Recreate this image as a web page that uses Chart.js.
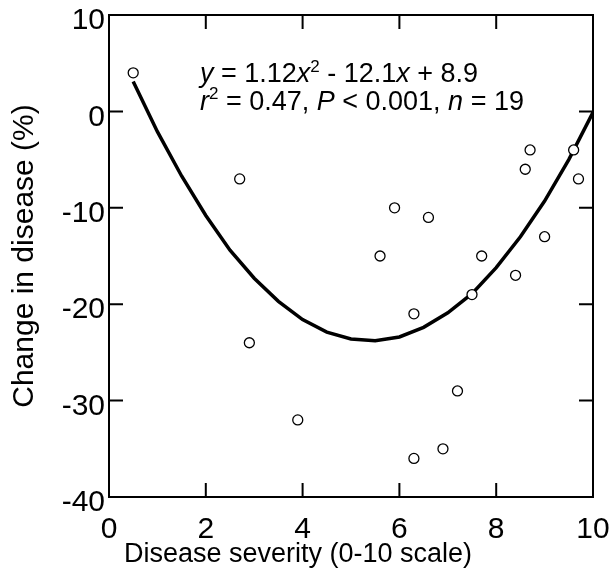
<!DOCTYPE html>
<html><head><meta charset="utf-8">
<script src="https://cdn.jsdelivr.net/npm/chart.js@4"></script>
<style>html,body{margin:0;padding:0;background:#fff;}</style>
</head><body>
<canvas id="c" width="614" height="579"></canvas>
<script>
const severityX = [0.5, 2.7, 2.9, 3.9, 5.6, 5.9, 6.3, 6.3, 6.6, 6.9, 7.2, 7.5, 7.7, 8.4, 8.6, 8.7, 9.0, 9.6, 9.7];
const changeY   = [4, -7, -24, -32, -15, -10, -21, -36, -11, -35, -29, -19, -15, -17, -6, -4, -13, -4, -7];
// Fitted curve
const fitX = [0.5, 1, 1.5, 2, 2.5, 3, 3.5, 4, 4.5, 5, 5.5, 6, 6.5, 7, 7.5, 8, 8.5, 9, 9.5, 10];
const fitY = [3.1, -2.1, -6.7, -10.8, -14.4, -17.3, -19.7, -21.6, -22.9, -23.6, -23.8, -23.4, -22.4, -20.9, -18.9, -16.2, -13.0, -9.3, -5.0, -0.1];
const xTicks = [0, 2, 4, 6, 8, 10];
const yTicks = [10, 0, -10, -20, -30, -40];
const xTitle = 'Disease severity (0-10 scale)';
const yTitle = 'Change in disease (%)';
const eqLines = [
  [{t:'y',i:1},{t:' = 1.12'},{t:'x',i:1},{t:'2',s:1},{t:' - 12.1'},{t:'x',i:1},{t:' + 8.9'}],
  [{t:'r',i:1},{t:'2',s:1},{t:' = 0.47, '},{t:'P',i:1},{t:' < 0.001, '},{t:'n',i:1},{t:' = 19'}]
];

const FAM = "'Liberation Sans', Arial, sans-serif";

const framePlugin = {
  id: 'frame',
  beforeDatasetsDraw(chart) {
    const {ctx, chartArea: {left, right, top, bottom}, scales: {x, y}} = chart;
    ctx.save();
    ctx.strokeStyle = '#000';
    ctx.lineWidth = 2;
    ctx.strokeRect(left, top, right - left, bottom - top);
    const L = 14;
    ctx.beginPath();
    xTicks.forEach(v => {
      const px = x.getPixelForValue(v);
      ctx.moveTo(px, bottom); ctx.lineTo(px, bottom - L);
      ctx.moveTo(px, top); ctx.lineTo(px, top + L);
    });
    yTicks.forEach(v => {
      const py = y.getPixelForValue(v);
      ctx.moveTo(left, py); ctx.lineTo(left + L, py);
      ctx.moveTo(right, py); ctx.lineTo(right - L, py);
    });
    ctx.stroke();
    ctx.restore();
  }
};

const textPlugin = {
  id: 'texts',
  afterDraw(chart) {
    const {ctx, scales: {x, y}} = chart;
    ctx.save();
    ctx.fillStyle = '#000';
    ctx.textBaseline = 'alphabetic';
    // equation annotation
    const size = 27;
    const baseX = x.getPixelForValue(1.88);
    const baselines = [y.getPixelForValue(3.0), y.getPixelForValue(0.18)];
    eqLines.forEach((runs, li) => {
      let cx = baseX;
      const by = baselines[li];
      runs.forEach(r => {
        const fs = r.s ? Math.round(size * 0.62) : size;
        ctx.font = (r.i ? 'italic ' : '') + fs + 'px ' + FAM;
        const yy = r.s ? by - size * 0.38 : by;
        ctx.fillText(r.t, cx, yy);
        cx += ctx.measureText(r.t).width;
      });
    });
    // x axis title
    ctx.font = '27px ' + FAM;
    ctx.textAlign = 'center';
    ctx.fillText(xTitle, 298, 562);
    ctx.restore();
  }
};

const pts = severityX.map((v, i) => ({x: v, y: changeY[i]}));
const curve = fitX.map((v, i) => ({x: v, y: fitY[i]}));

new Chart(document.getElementById('c'), {
  type: 'scatter',
  data: {
    datasets: [
      {
        data: pts, order: 0,
        pointRadius: 5, pointBackgroundColor: '#fff', pointBorderColor: '#000', pointBorderWidth: 1.3,
        showLine: false
      },
      {
        type: 'line', data: curve, order: 1,
        borderColor: '#000', borderWidth: 3.5, pointRadius: 0, tension: 0, fill: false
      }
    ]
  },
  options: {
    responsive: false,
    animation: false,
    layout: {padding: {top: 15, right: 21, left: 0, bottom: 0}},
    plugins: {legend: {display: false}, tooltip: {enabled: false}},
    scales: {
      x: {
        type: 'linear', min: 0, max: 10,
        afterBuildTicks(s) { s.ticks = xTicks.map(v => ({value: v})); },
        afterFit(s) { s.height = 82; s.paddingLeft = 0; s.paddingRight = 0; },
        grid: {display: false, drawTicks: false},
        border: {display: false},
        ticks: {font: {family: FAM, size: 30}, color: '#000', padding: 15, maxRotation: 0, autoSkip: false}
      },
      y: {
        type: 'linear', min: -40, max: 10,
        afterBuildTicks(s) { s.ticks = yTicks.map(v => ({value: v})); },
        afterFit(s) { s.width = 109; s.paddingTop = 0; s.paddingBottom = 0; },
        grid: {display: false, drawTicks: false},
        border: {display: false},
        ticks: {font: {family: FAM, size: 30}, color: '#000', padding: 4, labelOffset: 6, autoSkip: false},
        title: {display: true, text: yTitle, color: '#000', font: {family: FAM, size: 30}, padding: {top: 7}}
      }
    }
  },
  plugins: [framePlugin, textPlugin]
});
</script>
</body></html>
